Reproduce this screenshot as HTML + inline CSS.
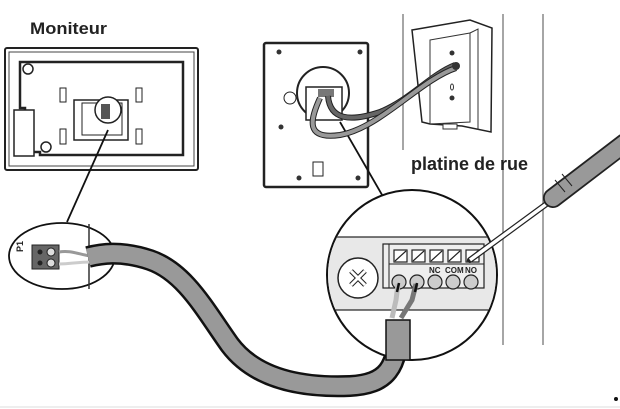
<!DOCTYPE html>
<html><head><meta charset="utf-8"><style>
html,body{margin:0;padding:0;background:#fff;}
svg{display:block;}
text{font-family:"Liberation Sans",sans-serif;font-weight:bold;}
</style></head><body>
<svg width="620" height="409" viewBox="0 0 620 409" xmlns="http://www.w3.org/2000/svg">
<rect width="620" height="409" fill="#fff"/>
<line x1="0" y1="407" x2="620" y2="407" stroke="#ddd" stroke-width="1"/>
<!-- Moniteur -->
<text x="30" y="34" font-size="17" fill="#222" textLength="77" lengthAdjust="spacingAndGlyphs">Moniteur</text>
<rect x="5" y="48" width="193" height="122" rx="2" fill="#fff" stroke="#222" stroke-width="2"/>
<rect x="9" y="52" width="185" height="114" fill="none" stroke="#444" stroke-width="1"/>
<path d="M20 62 H183 V155 H40 V152 H25 V108 H20 Z" fill="none" stroke="#222" stroke-width="2.5"/>
<rect x="14" y="110" width="20" height="46" fill="#fff" stroke="#222" stroke-width="1.5"/>
<rect x="74" y="100" width="54" height="40" fill="#fff" stroke="#222" stroke-width="1.5"/>
<rect x="82" y="103" width="40" height="32" fill="#fff" stroke="#222" stroke-width="1"/>
<circle cx="108" cy="110" r="13" fill="#fff" stroke="#222" stroke-width="1.5"/>
<rect x="101" y="104" width="9" height="15" fill="#555"/>
<rect x="60" y="88" width="6" height="14" fill="#fff" stroke="#222"/>
<rect x="136" y="88" width="6" height="14" fill="#fff" stroke="#222"/>
<rect x="60" y="129" width="6" height="15" fill="#fff" stroke="#222"/>
<rect x="136" y="129" width="6" height="15" fill="#fff" stroke="#222"/>
<circle cx="28" cy="69" r="5" fill="#fff" stroke="#222" stroke-width="1.5"/>
<circle cx="46" cy="147" r="5" fill="#fff" stroke="#222" stroke-width="1.5"/>
<line x1="108" y1="130" x2="67" y2="222" stroke="#111" stroke-width="1.8"/>
<!-- left ellipse -->
<ellipse cx="62" cy="256" rx="53" ry="33" fill="#fff" stroke="#111" stroke-width="1.8"/>
<line x1="89" y1="224" x2="89" y2="289" stroke="#333" stroke-width="1.5"/>
<rect x="32" y="245" width="27" height="24" fill="#666" stroke="#222"/>
<circle cx="40" cy="252" r="2.5" fill="#222"/><circle cx="40" cy="263" r="2.5" fill="#222"/>
<circle cx="51" cy="252" r="4" fill="#ddd" stroke="#222"/><circle cx="51" cy="263" r="4" fill="#ddd" stroke="#222"/>
<text x="28" y="257" font-size="9" fill="#222" transform="rotate(-90 23 257)">P1</text>
<path d="M59 252 C70 250 78 254 90 256" stroke="#999" stroke-width="3" fill="none"/>
<path d="M59 264 C70 264 78 262 90 262" stroke="#ccc" stroke-width="3" fill="none"/>
<!-- cable -->
<path d="M88 257 C100 254 120 250 150 260 C185 272 205 310 230 345 C255 378 300 388 350 386 C385 384 400 370 398 320" fill="none" stroke="#111" stroke-width="22"/>
<path d="M88 257 C100 254 120 250 150 260 C185 272 205 310 230 345 C255 378 300 388 350 386 C385 384 400 370 398 320" fill="none" stroke="#999" stroke-width="17"/>
<!-- outdoor unit -->
<rect x="264" y="43" width="104" height="144" rx="2" fill="#fff" stroke="#222" stroke-width="2.5"/>
<circle cx="323" cy="93" r="26" fill="#fff" stroke="#222" stroke-width="2"/>
<rect x="306" y="87" width="36" height="33" fill="#fff" stroke="#222" stroke-width="1.5"/>
<rect x="318" y="89" width="16" height="8" fill="#777"/>
<circle cx="290" cy="98" r="6" fill="#fff" stroke="#222"/>
<circle cx="279" cy="52" r="2.5" fill="#333"/><circle cx="360" cy="52" r="2.5" fill="#333"/>
<circle cx="299" cy="178" r="2.5" fill="#333"/><circle cx="358" cy="178" r="2.5" fill="#333"/>
<circle cx="281" cy="127" r="2.5" fill="#333"/>
<rect x="313" y="162" width="10" height="14" fill="#fff" stroke="#222"/>
<line x1="340" y1="122" x2="385" y2="200" stroke="#111" stroke-width="1.8"/>
<!-- wall lines -->
<line x1="403" y1="14" x2="403" y2="150" stroke="#888" stroke-width="1.5"/>
<line x1="503" y1="14" x2="503" y2="345" stroke="#888" stroke-width="1.5"/>
<line x1="543" y1="14" x2="543" y2="345" stroke="#888" stroke-width="1.5"/>
<!-- wall plate -->
<path d="M412 30 L470 20 L492 28 L491 132 L462 126 L430 124 L422 122 Z" fill="#fff" stroke="#222" stroke-width="1.5"/>
<path d="M430 40 L470 33 L470 122 L430 124 Z" fill="none" stroke="#333"/>
<path d="M470 33 L478 29 L478 130" fill="none" stroke="#333"/>
<circle cx="452" cy="53" r="2.5" fill="#333"/><circle cx="452" cy="98" r="2.5" fill="#333"/>
<ellipse cx="452" cy="87" rx="1.5" ry="3" fill="none" stroke="#333"/>
<rect x="443" y="124" width="14" height="5" fill="#fff" stroke="#333"/>
<!-- cables to plate -->
<path d="M328 96 C330 120 350 122 380 112 C410 100 430 75 455 65" fill="none" stroke="#222" stroke-width="6"/>
<path d="M328 96 C330 120 350 122 380 112 C410 100 430 75 455 65" fill="none" stroke="#666" stroke-width="4"/>
<path d="M320 98 C310 120 305 140 340 135 C380 128 420 80 456 68" fill="none" stroke="#222" stroke-width="6"/>
<path d="M320 98 C310 120 305 140 340 135 C380 128 420 80 456 68" fill="none" stroke="#999" stroke-width="4"/>
<circle cx="456" cy="66" r="4" fill="#333"/>
<text x="411" y="170" font-size="18" fill="#222">platine de rue</text>
<!-- big circle -->
<circle cx="412" cy="275" r="85" fill="#fff" stroke="#111" stroke-width="2"/>
<clipPath id="c"><circle cx="412" cy="275" r="84"/></clipPath>
<rect x="320" y="237" width="190" height="73" fill="#e8e8e8" stroke="#222" stroke-width="1.2" clip-path="url(#c)"/>
<rect x="383" y="244" width="101" height="44" fill="#eee" stroke="#222" stroke-width="1.2"/>
<line x1="389" y1="244" x2="389" y2="288" stroke="#222"/>
<line x1="389" y1="264" x2="484" y2="264" stroke="#222"/>
<circle cx="358" cy="278" r="20" fill="#fff" stroke="#222" stroke-width="1.5"/>
<path d="M351 271 L365 285 M365 271 L351 285" stroke="#222" stroke-width="5"/>
<path d="M351 271 L365 285 M365 271 L351 285" stroke="#fff" stroke-width="3"/>
<g fill="#fff" stroke="#222" stroke-width="1.2">
<rect x="394" y="250" width="13" height="12"/><rect x="412" y="250" width="13" height="12"/><rect x="430" y="250" width="13" height="12"/><rect x="448" y="250" width="13" height="12"/><rect x="466" y="250" width="13" height="12"/>
</g>
<g stroke="#222" stroke-width="1.2">
<line x1="395" y1="261" x2="406" y2="251"/><line x1="413" y1="261" x2="424" y2="251"/><line x1="431" y1="261" x2="442" y2="251"/><line x1="449" y1="261" x2="460" y2="251"/><line x1="467" y1="261" x2="478" y2="251"/>
</g>
<g fill="#ccc" stroke="#222" stroke-width="1.2">
<circle cx="399" cy="282" r="7"/><circle cx="417" cy="282" r="7"/><circle cx="435" cy="282" r="7"/><circle cx="453" cy="282" r="7"/><circle cx="471" cy="282" r="7"/>
</g>
<text x="429" y="273" font-size="8" fill="#222">NC</text>
<text x="445" y="273" font-size="8" fill="#222">COM</text>
<text x="465" y="273" font-size="8" fill="#222">NO</text>
<path d="M398 284 L396 300 L392 318" stroke="#bbb" stroke-width="5" fill="none"/>
<path d="M416 284 L412 300 L401 318" stroke="#777" stroke-width="5" fill="none"/>
<path d="M399 283 L397 292 M417 283 L415 292" stroke="#111" stroke-width="2.5"/>
<rect x="386" y="320" width="24" height="40" fill="#999" stroke="#111" stroke-width="1.5"/>
<!-- screwdriver -->
<path d="M470 260 L556 197" stroke="#222" stroke-width="6" stroke-linecap="round"/>
<path d="M470 260 L556 197" stroke="#fff" stroke-width="3.5"/>
<path d="M553 198 L625 143" stroke="#222" stroke-width="20" stroke-linecap="round"/>
<path d="M553 198 L625 143" stroke="#999" stroke-width="16.5" stroke-linecap="round"/>
<path d="M565 192 L555 180 M572 186 L562 174" stroke="#222" stroke-width="1"/>
<circle cx="616" cy="399" r="2" fill="#111"/>
</svg>
</body></html>
